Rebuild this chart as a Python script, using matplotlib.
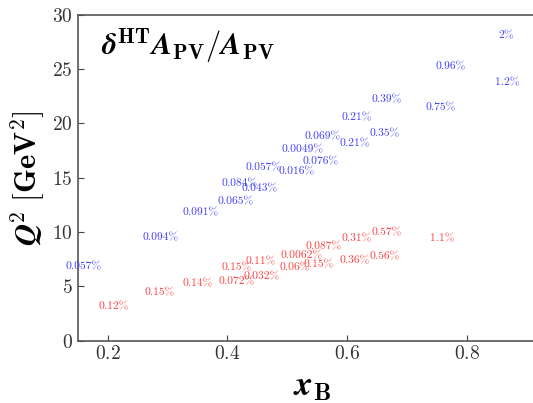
import matplotlib
matplotlib.use("Agg")
import matplotlib.pyplot as plt

plt.rcParams['font.family'] = 'serif'
plt.rcParams['font.serif'] = ['cmr10', 'DejaVu Serif']
plt.rcParams['mathtext.fontset'] = 'cm'
plt.rcParams['axes.formatter.use_mathtext'] = True

# high-Q2 kinematics (blue)
blue_x = [0.160, 0.288, 0.355, 0.413, 0.420, 0.454, 0.461, 0.516, 0.525, 0.556,
          0.559, 0.613, 0.662, 0.616, 0.667, 0.756, 0.773, 0.867, 0.866]
blue_q2 = [6.83, 9.50, 11.76, 12.80, 14.47, 14.00, 15.95, 15.54, 17.60, 16.47,
           18.77, 18.16, 19.08, 20.55, 22.16, 21.48, 25.24, 23.80, 28.07]
blue_lab = ['0.057%', '0.094%', '0.091%', '0.065%', '0.084%', '0.043%', '0.057%',
            '0.016%', '0.0049%', '0.076%', '0.069%', '0.21%', '0.35%', '0.21%',
            '0.39%', '0.75%', '0.96%', '1.2%', '2%']

# low-Q2 kinematics (red)
red_x = [0.210, 0.286, 0.351, 0.415, 0.416, 0.455, 0.457, 0.513, 0.524, 0.553,
         0.561, 0.613, 0.662, 0.616, 0.666, 0.759]
red_q2 = [3.17, 4.40, 5.23, 5.45, 6.68, 7.23, 5.85, 6.68, 7.85, 7.02,
          8.68, 7.39, 7.76, 9.39, 9.94, 9.39]
red_lab = ['0.12%', '0.15%', '0.14%', '0.072%', '0.15%', '0.11%', '0.032%', '0.06%',
           '0.0062%', '0.15%', '0.087%', '0.36%', '0.56%', '0.31%', '0.57%', '1.1%']

fig = plt.figure(figsize=(5.33, 4.03), dpi=100)
ax = fig.add_axes([0.146, 0.155, 0.88, 0.808])

for x, y, s in zip(blue_x, blue_q2, blue_lab):
    ax.text(x, y, s, color='#4040ff', fontsize=8.3, ha='center', va='center')
for x, y, s in zip(red_x, red_q2, red_lab):
    ax.text(x, y, s, color='#ff4040', fontsize=8.3, ha='center', va='center')

ax.set_xlim(0.15, 0.934)
ax.set_ylim(0, 30)
ax.set_xticks([0.2, 0.4, 0.6, 0.8])
ax.set_yticks([0, 5, 10, 15, 20, 25, 30])
ax.tick_params(direction='in', length=4, labelsize=14, colors='#444444',
               labelcolor='#333333', top=False, right=False)
for sp in ax.spines.values():
    sp.set_color('#555555')
    sp.set_linewidth(1.2)
ax.spines['right'].set_visible(False)

ax.set_xlabel(r'$\mathbfit{x}_{\mathbf{B}}$', fontsize=25, labelpad=6)
ax.set_ylabel(r'$\mathbfit{Q}^{2}\ [\mathbf{GeV}^{2}]$', fontsize=22, labelpad=4)
ax.text(0.05, 0.905,
        r'$\mathbfit{\delta}^{\mathbf{HT}}\mathbfit{A}_{\mathbf{PV}}/\mathbfit{A}_{\mathbf{PV}}$',
        transform=ax.transAxes, fontsize=22, ha='left', va='center')

fig.savefig('out.png', dpi=100)
